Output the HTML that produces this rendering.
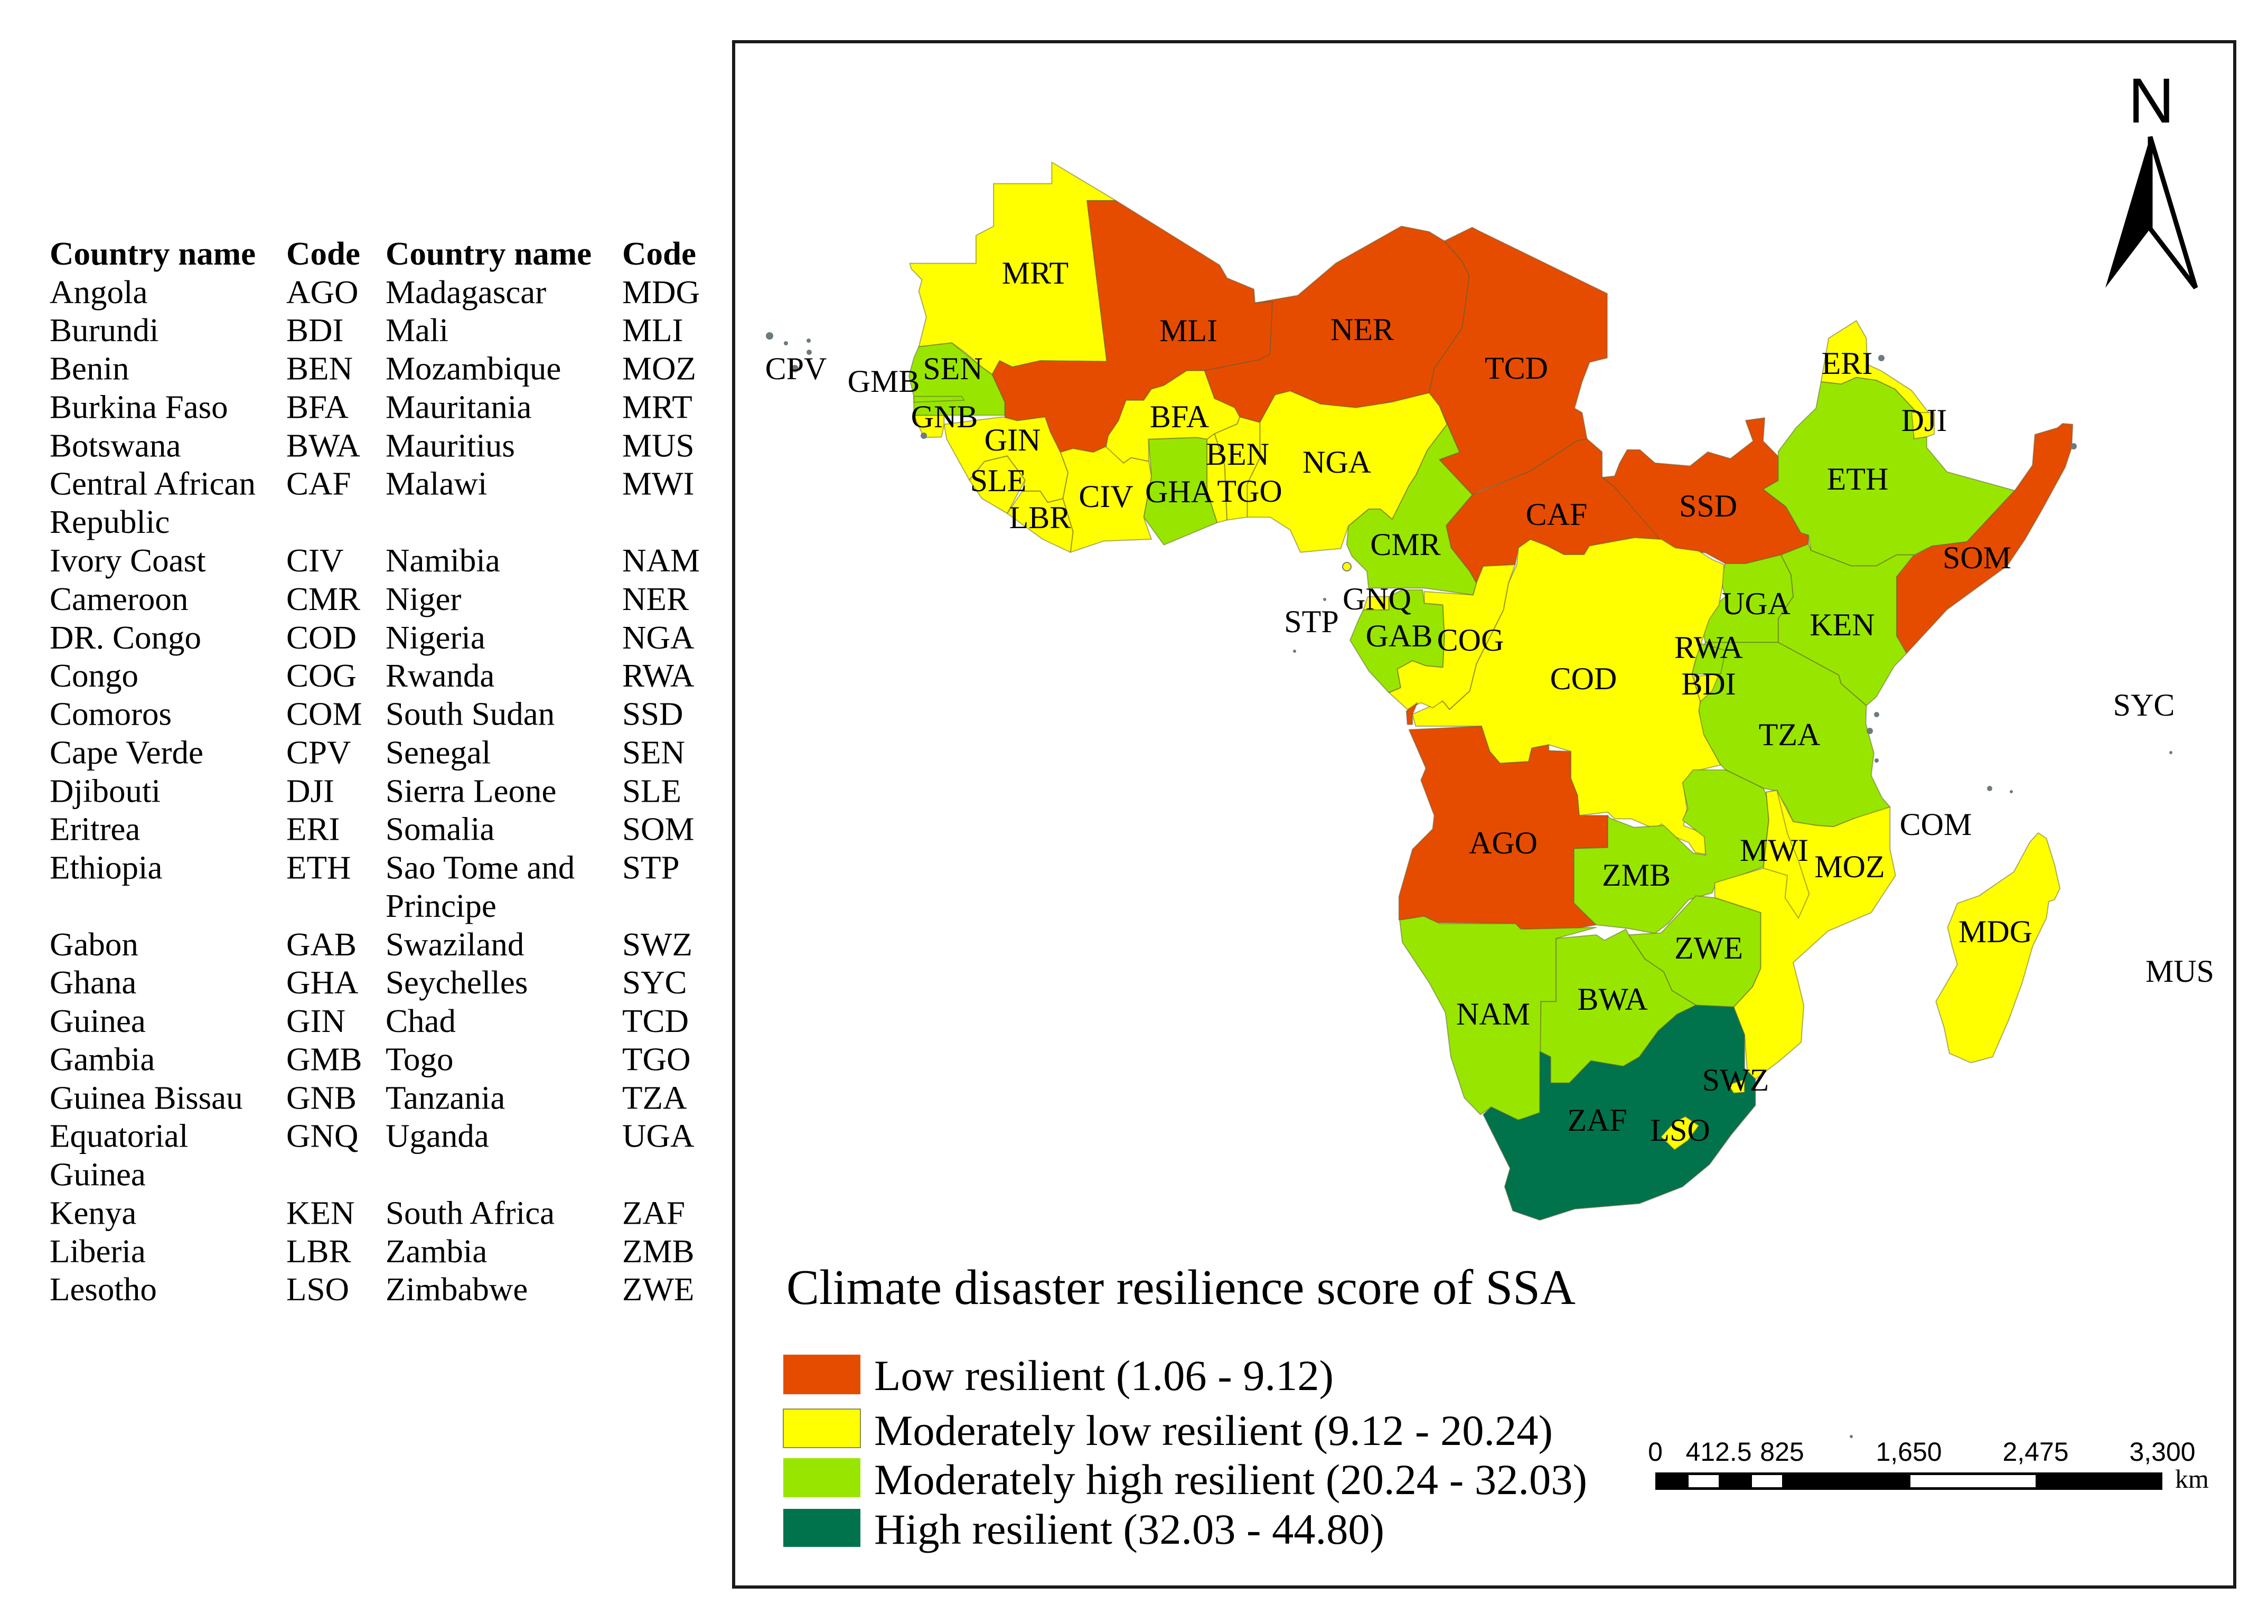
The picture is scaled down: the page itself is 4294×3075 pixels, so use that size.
<!DOCTYPE html>
<html lang="en">
<head>
<meta charset="utf-8">
<title>Climate disaster resilience score of SSA</title>
<style>
html,body{margin:0;padding:0;background:#fff}
svg{display:block}
text{font-family:"Liberation Serif",serif;fill:#000}
.t{font-size:63px}
.h{font-size:63px;font-weight:bold}
.c{font-size:60px;text-anchor:middle}
.country{stroke:#5c5c34;stroke-opacity:.5;stroke-width:2;vector-effect:non-scaling-stroke;stroke-linejoin:round}
.isle{fill:#6d7a80}
</style>
</head>
<body>
<svg id="figure" xmlns="http://www.w3.org/2000/svg" width="4294" height="3075" viewBox="0 0 4294 3075">
<rect width="4294" height="3075" fill="#fff"/>

<g transform="matrix(1 0 0 .9985 0 .75)">
<g class="h">
<text x="94" y="501">Country name</text><text x="542" y="501">Code</text><text x="730" y="501">Country name</text><text x="1178" y="501">Code</text>
</g>
<g class="t">
<text x="94" y="574">Angola</text><text x="94" y="646">Burundi</text><text x="94" y="719">Benin</text><text x="94" y="792">Burkina Faso</text><text x="94" y="865">Botswana</text><text x="94" y="937">Central African</text><text x="94" y="1010">Republic</text><text x="94" y="1083">Ivory Coast</text><text x="94" y="1156">Cameroon</text><text x="94" y="1229">DR. Congo</text><text x="94" y="1301">Congo</text><text x="94" y="1374">Comoros</text><text x="94" y="1447">Cape Verde</text><text x="94" y="1520">Djibouti</text><text x="94" y="1592">Eritrea</text><text x="94" y="1665">Ethiopia</text><text x="94" y="1811">Gabon</text><text x="94" y="1883">Ghana</text><text x="94" y="1956">Guinea</text><text x="94" y="2029">Gambia</text><text x="94" y="2102">Guinea Bissau</text><text x="94" y="2174">Equatorial</text><text x="94" y="2247">Guinea</text><text x="94" y="2320">Kenya</text><text x="94" y="2393">Liberia</text><text x="94" y="2465">Lesotho</text>
</g>
<g class="t">
<text x="542" y="574">AGO</text><text x="542" y="646">BDI</text><text x="542" y="719">BEN</text><text x="542" y="792">BFA</text><text x="542" y="865">BWA</text><text x="542" y="937">CAF</text><text x="542" y="1083">CIV</text><text x="542" y="1156">CMR</text><text x="542" y="1229">COD</text><text x="542" y="1301">COG</text><text x="542" y="1374">COM</text><text x="542" y="1447">CPV</text><text x="542" y="1520">DJI</text><text x="542" y="1592">ERI</text><text x="542" y="1665">ETH</text><text x="542" y="1811">GAB</text><text x="542" y="1883">GHA</text><text x="542" y="1956">GIN</text><text x="542" y="2029">GMB</text><text x="542" y="2102">GNB</text><text x="542" y="2174">GNQ</text><text x="542" y="2320">KEN</text><text x="542" y="2393">LBR</text><text x="542" y="2465">LSO</text>
</g>
<g class="t">
<text x="730" y="574">Madagascar</text><text x="730" y="646">Mali</text><text x="730" y="719">Mozambique</text><text x="730" y="792">Mauritania</text><text x="730" y="865">Mauritius</text><text x="730" y="937">Malawi</text><text x="730" y="1083">Namibia</text><text x="730" y="1156">Niger</text><text x="730" y="1229">Nigeria</text><text x="730" y="1301">Rwanda</text><text x="730" y="1374">South Sudan</text><text x="730" y="1447">Senegal</text><text x="730" y="1520">Sierra Leone</text><text x="730" y="1592">Somalia</text><text x="730" y="1665">Sao Tome and</text><text x="730" y="1738">Principe</text><text x="730" y="1811">Swaziland</text><text x="730" y="1883">Seychelles</text><text x="730" y="1956">Chad</text><text x="730" y="2029">Togo</text><text x="730" y="2102">Tanzania</text><text x="730" y="2174">Uganda</text><text x="730" y="2320">South Africa</text><text x="730" y="2393">Zambia</text><text x="730" y="2465">Zimbabwe</text>
</g>
<g class="t">
<text x="1178" y="574">MDG</text><text x="1178" y="646">MLI</text><text x="1178" y="719">MOZ</text><text x="1178" y="792">MRT</text><text x="1178" y="865">MUS</text><text x="1178" y="937">MWI</text><text x="1178" y="1083">NAM</text><text x="1178" y="1156">NER</text><text x="1178" y="1229">NGA</text><text x="1178" y="1301">RWA</text><text x="1178" y="1374">SSD</text><text x="1178" y="1447">SEN</text><text x="1178" y="1520">SLE</text><text x="1178" y="1592">SOM</text><text x="1178" y="1665">STP</text><text x="1178" y="1811">SWZ</text><text x="1178" y="1883">SYC</text><text x="1178" y="1956">TCD</text><text x="1178" y="2029">TGO</text><text x="1178" y="2102">TZA</text><text x="1178" y="2174">UGA</text><text x="1178" y="2320">ZAF</text><text x="1178" y="2393">ZMB</text><text x="1178" y="2465">ZWE</text>
</g>
</g>

<rect x="1389" y="79" width="2842" height="2926" fill="none" stroke="#1a1a1a" stroke-width="6"/>

<g transform="scale(2.749)">
<polygon class="country" id="MRT" points="626.6,181.4 672.2,181.4 672.2,162.2 684.3,155.8 684.3,126.5 724.4,126.5 724.4,111.7 768.6,138.2 748.7,138.2 762.3,249 716.4,248.5 697.2,252.8 688.5,248.5 683.3,258 676.3,253 665,243 655.5,236.2 632.8,238.8 638,218.4 632.8,200.5 635,192.8 627.6,185.2"/>
<polygon class="country" id="MLI" points="748.7,138.2 768.6,138.2 840,182.6 845.1,191.5 863.6,199.2 864.3,208.6 876.4,207.6 874.7,243.8 867.7,247.7 829.5,255.3 817.3,255.3 801.6,265.5 793,268 787.7,275.7 775.5,275.7 770.3,289.8 763.3,300 761.6,307.6 752.9,311.5 739,308.9 730.3,311.5 723.3,297.4 719.8,287.2 700.7,289.8 692,287.2 692,277 683.3,258 688.5,248.5 697.2,252.8 716.4,248.5 762.3,249"/>
<polygon class="country" id="NER" points="864.3,208.6 893.8,203.5 920,181.3 965.2,155.8 984.3,159.6 994.8,166 1007,180 1012,190 1007,226 987.8,254 984.3,270.6 958.2,277 933.9,280.8 909.5,278.3 888.6,269.3 878.2,271.9 867.7,291 853.8,287.2 850.3,280.8 836.4,274.5 829.5,255.3 867.7,247.7 874.7,243.8 876.4,207.6"/>
<polygon class="country" id="TCD" points="994.8,166 1013.9,156.6 1018.5,159 1106.9,202.2 1106.9,246.5 1094.8,249.5 1089.6,263 1084.4,281.2 1089.6,284.2 1093,302.3 1086,303.8 1053,325 1018.5,338.5 1014,340.8 991.3,316.6 1005.2,311.5 991.3,279.6 984.3,270.6 987.8,254 1007,226 1012,190 1007,180"/>
<polygon class="country" id="CAF" points="1014,340.8 1053,325 1086,303.8 1093,302.3 1103.4,311.3 1103.4,328.8 1112,335.5 1144.4,371.5 1125.9,370.3 1094.6,376 1091,382 1077.2,382 1065.6,376 1054,371.5 1045.8,377.3 1043.5,388.9 1021.5,390 1016.8,401.6 1012.2,393.5 999.4,377.3 996,362"/>
<polygon class="country" id="SSD" points="1103.4,328.8 1112,327.9 1115.5,318.9 1120.7,309.8 1129.4,309.8 1139.8,318.9 1164,321 1176.2,311.3 1191.8,315.9 1207.4,303.8 1202.2,289.6 1215.4,287.8 1214.3,303.8 1224.7,314.4 1224.7,331 1214.3,337 1230,349 1240.3,367 1245.5,368.6 1245.5,374.7 1226.5,382.2 1202.2,388.2 1188.3,388.2 1174.5,380.7 1157.1,379.2 1143.3,371.7 1112,335.5"/>
<polygon class="country" id="ERI" points="1254.2,263 1259.4,233 1278.5,220.9 1285.4,233 1286,251 1295.8,255.5 1316.6,269 1330.4,287 1320,284 1305,268 1292.3,262 1278.5,260 1268,264.6"/>
<polygon class="country" id="ETH" points="1254.2,263 1268,264.6 1278.5,260 1292.3,262 1305,268 1320,284 1318,302 1327,301 1327,308.3 1340.9,325 1387.6,337.9 1354.7,373.2 1330.5,376.2 1318.3,382.2 1306.2,382.2 1292.3,389.8 1275,389.8 1247.3,379.2 1245.5,368.6 1240.3,367 1230,349 1214.3,337 1224.7,331 1224.7,311 1236.9,294.7 1250.7,281.2"/>
<polygon class="country" id="DJI" points="1316.6,284 1332.2,284.2 1332.2,299 1327,300.8 1318.3,302.3"/>
<polygon class="country" id="SOM" points="1401.5,299.3 1417,294.7 1420.6,291.7 1427.5,292.3 1426.8,308.3 1422.3,321.9 1406.7,350.5 1394.6,371.6 1382.4,389.7 1361.6,404.8 1340.9,419.9 1313.1,450 1306.2,438 1306.2,397.3 1316.6,383.7 1330.5,376.2 1354.7,373.2 1387.6,337.9 1399.8,320.4"/>
<polygon class="country" id="KEN" points="1226.5,382.2 1245.5,374.7 1247.3,379.2 1275,389.8 1292.3,389.8 1306.2,382.2 1318.3,382.2 1306.2,397.3 1306.2,438 1313.1,450 1304.5,459 1292.3,480 1285.4,486 1268,471 1266.3,465 1224.7,442.5 1224.7,426 1235,410.9 1233.4,395.8"/>
<polygon class="country" id="UGA" points="1188.3,388.2 1202.2,388.2 1226.5,382.2 1233.4,395.8 1235,410.9 1224.7,426 1224.7,442.5 1174.5,442.5 1172.8,435 1178,420 1188.3,410.9 1184.9,398.8"/>
<polygon class="country" id="TZA" points="1174.5,442.5 1224.7,442.5 1266.3,465 1268,471 1285.4,486 1285,498.4 1290.6,518.8 1288.7,534.1 1296.2,549.5 1301.7,555.8 1286.9,562.2 1277.6,563.5 1262.8,569.4 1251.6,568.6 1235,566 1230,555 1222,544.4 1214.5,543 1188.5,530.3 1184.8,526.5 1171.8,503.5 1170,488.2 1172,480 1179,470 1170,455"/>
<polygon class="country" id="RWA" points="1172,443.4 1188.5,448 1185,464.3 1165.3,464.3 1168.8,450.4"/>
<polygon class="country" id="BDI" points="1166.5,466 1184,464.3 1179.2,475.9 1171,483.3 1168.8,475.9"/>
<polygon class="country" id="COD" points="1044.7,388.9 1045.8,377.3 1054,371.5 1065.6,376 1077.2,382 1091,382 1094.6,376 1125.9,370.3 1144.4,371.5 1153.7,377.3 1170,379.6 1179.2,385.4 1187.4,388.9 1186.2,404 1183.9,416.7 1177,427 1172.3,441 1167.6,455 1165.3,464.3 1171,483.3 1170,489.8 1173.4,506 1185,526.9 1165.3,531.6 1159.5,540.8 1161.8,557 1159.5,568.7 1174.6,574.5 1174.6,588.4 1167.6,587.2 1163,580.3 1151.4,575.6 1144.4,567.5 1139.8,571 1123.6,564 1112,564 1107.3,559.4 1087.6,561.7 1086.4,547.8 1081.8,536.2 1081.8,517.6 1066.7,513 1055,515.3 1052.8,524.6 1033,525.8 1026,517.6 1020.3,500.2 975,500.2 972.8,492 993.6,482.8 998.3,488.6 1012.2,475.9 1016.8,457.3 1035.4,420.2 1038.9,401.6"/>
<polygon class="country" id="COG" points="1016.8,401.6 1021.5,390 1043.5,388.9 1038.9,401.6 1035.4,420.2 1016.8,457.3 1012.2,475.9 998.3,488.6 993.6,482.8 986.7,487.5 978.6,484 969.3,488.6 956.5,477 964.6,473.6 962.3,460.8 972.8,455 982,458.5 993.6,459.6 994.8,438.8 993.6,416.7 980.9,415.6 980.9,407.4 1014.5,409.8"/>
<polygon class="country" id="GAB" points="979.7,406.3 980.9,415.6 993.6,416.7 994.8,438.8 993.6,459.6 982,458.5 972.8,455 962.3,460.8 964.6,473.6 956.5,477 942.6,462 929.8,441 935.6,427 939,420 956.5,420 956.5,410.9 965.8,406.3"/>
<polygon class="country" id="GNQ" points="942,411 956.5,410.9 956.5,420 939,420"/>
<polygon class="country" id="CMR" points="991.3,279.6 1005.2,311.5 991.3,316.6 1014,340.8 996,362 999.4,377.3 1012.2,393.5 1016.8,401.6 1014.5,409.8 980.9,405 942.6,405 941.4,393.5 931,383 927.5,375 928.7,362.2 942.6,350.6 950.7,350.6 958.8,357.6 970.4,334.4 975,327.4 983,310 996.5,292.3"/>
<polygon class="country" id="NGA" points="867.7,291 878.2,271.9 888.6,269.3 909.5,278.3 933.9,280.8 958.2,277 984.3,270.6 991.3,279.6 996.5,292.3 983,310 975,327.4 970.4,334.4 958.8,357.6 950.7,350.6 942.6,350.6 928.7,362.2 923.4,377.8 895.6,380.4 888.6,365 874.7,356.2 859,356.2 859,333.2 867.7,315.3"/>
<polygon class="country" id="BEN" points="853.8,287.2 867.7,291 867.7,315.3 859,333.2 859,356.2 845,358.2 843.4,320.4 836.4,298.7 852,292"/>
<polygon class="country" id="TGO" points="831.2,302.5 836.4,298.7 843.4,320.4 845,358.2 838.2,360 831.2,338"/>
<polygon class="country" id="GHA" points="791,302.5 824.2,301.3 831.2,302.5 831.2,338 838.2,360 801.6,375.3 787.7,356.2 793,328"/>
<polygon class="country" id="BFA" points="817.3,255.3 829.5,255.3 836.4,274.5 850.3,280.8 853.8,287.2 852,292 836.4,298.7 831.2,302.5 824.2,301.3 791,302.5 791.2,317.8 779,315.3 773.8,319 761.6,308.9 763.3,300 770.3,289.8 775.5,275.7 787.7,275.7 793,268 801.6,265.5"/>
<polygon class="country" id="CIV" points="730.3,311.5 739,308.9 752.9,311.5 761.6,307.6 773.8,319 779,315.3 791.2,317.8 793,328 787.7,356.2 793,371.4 760,372.7 737.2,380.4 739,366.3 732,343.4 735.5,325.5"/>
<polygon class="country" id="LBR" points="737.2,380.4 718.1,371.4 693.7,353.6 704.2,338.2 716.4,338.2 721.6,346 732,343.4 739,366.3"/>
<polygon class="country" id="SLE" points="678,317.8 693.7,314 706,330.6 693.7,353.6 676.3,343.4 667.6,330.6"/>
<polygon class="country" id="GIN" points="650.2,292.3 690.3,287.2 700.7,289.8 719.8,287.2 723.3,297.4 730.3,311.5 735.5,325.5 732,343.4 721.6,346 716.4,338.2 704.2,338.2 706,330.6 693.7,314 678,317.8 667.6,330.6 652,302.5"/>
<polygon class="country" id="GNB" points="629.4,286 650.2,286 650.2,292.3 648.5,301 636.3,301.3"/>
<polygon class="country" id="SEN" points="632.8,238.8 655.5,236.2 676.3,253 683.3,258 692,277 692,286 650.2,286 629.4,286 629.4,273 626,259 629.4,246.5"/>
<polygon class="country" id="GMB" points="629.4,273 662.4,273 664,275.7 629.4,277"/>
<polygon class="country" id="AGO" points="970.4,502.6 1020.3,500.2 1026,517.6 1033,525.8 1052.8,524.6 1055,515.3 1066.7,513 1066.7,517 1081.8,517.6 1081.8,536.2 1086.4,547.8 1087.6,561.7 1107.3,561.7 1107.3,583.8 1084,584.5 1084,622 1099.2,637 1072.5,641.8 1045.8,639.4 1040,636 989,635.5 982,631.3 963.5,633.6 963.5,617.4 972.8,585 986.7,571 987.8,561.7 978.6,537.4 982,529.2"/>
<polygon class="country" id="CAB" points="968.6,489.8 976.2,484 972.8,492 972.8,499 969.3,499"/>
<polygon class="country" id="ZMB" points="1107.3,561.7 1107.3,583.8 1084,584.5 1084,622 1099.2,637 1121,639.4 1139.8,642.9 1149,636 1163,619.7 1179.2,615 1181.5,609.3 1214.5,597 1218.2,564.8 1220,557 1214.5,543 1188.5,530.3 1166.2,530.3 1158.8,539.2 1162.5,557 1158.8,564.8 1173.7,576.3 1174.8,589 1166.2,587.7 1145.8,568.6 1125.4,569.9 1108.7,563.5"/>
<polygon class="country" id="MOZ" points="1216.4,545.6 1223.8,544.4 1235,566 1251.6,568.6 1262.8,569.4 1277.6,563.5 1301.7,555.8 1301.7,585.2 1305.5,603 1288.7,628.6 1259,641.3 1235,663 1238.6,677 1242.3,692.4 1240.5,717.9 1225.6,730.7 1209,743.4 1203.4,738.3 1201.5,712.8 1194,693.6 1207,679.6 1212.6,666.9 1212.6,628.6 1181,618.4 1181,608 1214.5,598 1218.2,564.8"/>
<polygon class="country" id="MWI" points="1216.4,545.6 1223.8,544.4 1231,574 1238.6,592.8 1246,615.8 1238.6,632.4 1229.4,618.4 1231,603 1214.5,598 1218.2,564.8"/>
<polygon class="country" id="ZWE" points="1168,617 1181,618.4 1212.6,628.6 1212.6,666.9 1207,679.6 1194,693.6 1168,692.4 1151.4,682.2 1145.8,669.4 1132.8,660.5 1121.7,643.9 1144,642.6"/>
<polygon class="country" id="BWA" points="1071.6,646.4 1099.4,643.9 1105,647.7 1119.8,640 1121.7,643.9 1132.8,660.5 1145.8,669.4 1151.4,682.2 1168,692.4 1155,698.7 1142,710.2 1129,728.1 1118,734.5 1095.7,730.7 1080.9,746 1067.9,746 1067.9,728 1060.5,724.3 1061.2,689.8 1071.6,689.8"/>
<polygon class="country" id="NAM" points="964,633.7 980.6,631.1 991.8,636.2 1043.8,636.2 1047.5,640 1099.4,638.8 1071.6,646.4 1071.6,689.8 1061.2,689.8 1060.5,766.4 1051.2,770.2 1045.6,771.5 1027,762.5 1019.6,767.7 1008.5,756.2 999.2,728 995.5,697.5 984.4,677 965.8,649"/>
<polygon class="country" id="ZAF" points="1060.5,724.3 1067.9,728 1067.9,746 1080.9,746 1095.7,730.7 1118,734.5 1129,728.1 1142,710.2 1155,698.7 1168,692.4 1194,693.6 1201.5,712.8 1201.5,735.8 1209,743.4 1209,761.3 1192.2,781.7 1177.4,802 1158.8,817.4 1129,829 1084.6,832.7 1060.5,840.4 1041.9,834 1036.3,817.4 1040,804.7 1021.5,767.7 1027,762.5 1045.6,771.5 1060.5,766.4"/>
<polygon class="country" id="LSO" points="1160.7,769 1170,775.3 1162.5,785.5 1153.3,792 1144,783 1153.3,772.8"/>
<polygon class="country" id="SWZ" points="1190.4,747.2 1201.5,743.4 1201.5,752.3 1194,752.9"/>
<polygon class="country" id="MDG" points="1403.8,573.7 1409.4,577.5 1415,595.4 1418.7,612 1415,619.6 1411,621 1409.4,632.4 1400,651.5 1392.7,677 1383.4,702.6 1372.3,728 1357.4,732 1342.6,725.5 1338.9,707.7 1333.3,689.8 1348.1,664.3 1344.4,651.5 1341.4,638.8 1348.1,622.2 1363,617 1387,600.5 1398,580"/>
</g>

<g>
<circle class="isle" cx="1457" cy="636" r="7"/><circle class="isle" cx="1488" cy="650" r="4"/><circle class="isle" cx="1531" cy="645" r="4"/><circle class="isle" cx="1532" cy="667" r="5"/><circle class="isle" cx="1505" cy="698" r="7"/>
<circle class="isle" cx="3767" cy="1493" r="5"/><circle class="isle" cx="3808" cy="1499" r="3"/><circle class="isle" cx="2508" cy="1135" r="3"/><circle class="isle" cx="2451" cy="1233" r="3"/>
<circle class="isle" cx="3553" cy="1353" r="5"/><circle class="isle" cx="3540" cy="1384" r="6"/><circle class="isle" cx="3553" cy="1440" r="4"/><circle class="isle" cx="4110" cy="1425" r="3"/><circle class="isle" cx="3505" cy="2720" r="3"/>
<circle cx="2550" cy="1073" r="8" fill="#ffff00" stroke="#777" stroke-width="2"/>
<circle class="isle" cx="1749" cy="825" r="6"/><circle class="isle" cx="3562" cy="678" r="6"/><circle class="isle" cx="3926" cy="845" r="6"/>
</g>

<g class="c">
<text x="1960" y="537">MRT</text><text x="2250" y="646">MLI</text><text x="2579" y="644">NER</text><text x="1507" y="718">CPV</text><text x="1673" y="742">GMB</text><text x="1804" y="718">SEN</text><text x="1788" y="809">GNB</text><text x="1917" y="853">GIN</text><text x="2233" y="809">BFA</text><text x="2343" y="880">BEN</text><text x="2531" y="895">NGA</text><text x="1890" y="930">SLE</text><text x="2233" y="951">GHA</text><text x="2366" y="950">TGO</text><text x="2094" y="960">CIV</text><text x="1969" y="1000">LBR</text><text x="2661" y="1051">CMR</text>
<text x="2607" y="1154">GNQ</text><text x="2483" y="1197">STP</text><text x="2649" y="1224">GAB</text><text x="2784" y="1232">COG</text><text x="2998" y="1305">COD</text><text x="3235" y="1246">RWA</text><text x="3235" y="1315">BDI</text><text x="3325" y="1163">UGA</text><text x="2947" y="994">CAF</text><text x="3234" y="978">SSD</text><text x="2846" y="1616">AGO</text><text x="3098" y="1677">ZMB</text><text x="3235" y="1815">ZWE</text>
<text x="2871" y="717">TCD</text><text x="3497" y="708">ERI</text><text x="3643" y="816">DJI</text><text x="3517" y="927">ETH</text><text x="3743" y="1076">SOM</text><text x="3488" y="1203">KEN</text><text x="4059" y="1355">SYC</text>
<text x="3388" y="1411">TZA</text><text x="3665" y="1581">COM</text><text x="3359" y="1630">MWI</text><text x="3502" y="1661">MOZ</text><text x="3778" y="1784">MDG</text><text x="3053" y="1912">BWA</text><text x="2827" y="1940">NAM</text><text x="3286" y="2065">SWZ</text><text x="3024" y="2141">ZAF</text><text x="3181" y="2160">LSO</text><text x="4127" y="1859">MUS</text>
</g>

<g>
<text x="4073" y="232" text-anchor="middle" style="font-family:'Liberation Sans',sans-serif;font-size:121px">N</text>
<polygon points="4071,259 4157,545 4071,433" fill="#fff" stroke="#000" stroke-width="9" stroke-linejoin="miter"/>
<polygon points="4071,259 3986,545 4071,433" fill="#000"/>
</g>

<text x="1489" y="2469" font-size="94" textLength="1494" lengthAdjust="spacingAndGlyphs">Climate disaster resilience score of SSA</text>
<g>
<rect id="swatch0" x="1483" y="2565" width="146" height="75"/>
<rect id="swatch1" x="1483" y="2668" width="146" height="73" stroke="#8a8a50" stroke-width="2"/>
<rect id="swatch2" x="1483" y="2761" width="146" height="74"/>
<rect id="swatch3" x="1483" y="2857" width="146" height="72"/>
<text x="1655" y="2632" font-size="82" textLength="870" lengthAdjust="spacingAndGlyphs">Low resilient (1.06 - 9.12)</text>
<text x="1655" y="2736" font-size="82" textLength="1285" lengthAdjust="spacingAndGlyphs">Moderately low resilient (9.12 - 20.24)</text>
<text x="1655" y="2829" font-size="82" textLength="1350" lengthAdjust="spacingAndGlyphs">Moderately high resilient (20.24 - 32.03)</text>
<text x="1655" y="2923" font-size="82" textLength="966" lengthAdjust="spacingAndGlyphs">High resilient (32.03 - 44.80)</text>
</g>

<g id="scale-bar"></g>
<text x="4118" y="2817" font-size="50">km</text>
</svg>

<script>
// Legend classes (0 low, 1 moderately low, 2 moderately high, 3 high)
var classColors = ['#E64C00', '#FFFF00', '#98E600', '#00734C'];
var lowCodes = ['AGO', 'CAB', 'CAF', 'MLI', 'NER', 'SOM', 'SSD', 'TCD'];
var modLowCodes = ['BDI', 'BEN', 'BFA', 'CIV', 'COD', 'COG', 'DJI', 'ERI', 'GIN', 'GNB', 'GNQ', 'LBR', 'LSO', 'MDG', 'MOZ', 'MRT', 'MWI', 'NGA', 'SLE', 'SWZ', 'TGO'];
var modHighCodes = ['BWA', 'CMR', 'ETH', 'GAB', 'GHA', 'GMB', 'KEN', 'NAM', 'RWA', 'SEN', 'TZA', 'UGA', 'ZMB', 'ZWE'];
var highCodes = ['ZAF'];
// Scale bar, km
var scaleTicks = [0, 412.5, 825, 1650, 2475, 3300];
var scaleTickLabels = ['0', '412.5', '825', '1,650', '2,475', '3,300'];
var scaleDivisions = [0, 206.25, 412.5, 618.75, 825, 1650, 2475, 3300];

function paint(codes, cls) {
  codes.forEach(function (code) {
    var el = document.getElementById(code);
    if (el) el.setAttribute('fill', classColors[cls]);
  });
  document.getElementById('swatch' + cls).setAttribute('fill', classColors[cls]);
}
paint(lowCodes, 0);
paint(modLowCodes, 1);
paint(modHighCodes, 2);
paint(highCodes, 3);

var NS = 'http://www.w3.org/2000/svg';
var bar = document.getElementById('scale-bar');
function scaleX(km) {
  return 3134 + km * (960 / 3300);
}
var barBg = document.createElementNS(NS, 'rect');


barBg.setAttribute('x', scaleX(scaleDivisions[0]));
barBg.setAttribute('y', 2788);
barBg.setAttribute('width', scaleX(scaleDivisions[scaleDivisions.length - 1]) - scaleX(scaleDivisions[0]));
barBg.setAttribute('height', 33);
barBg.setAttribute('fill', '#000');
bar.appendChild(barBg);
for (var i = 1; i < scaleDivisions.length - 1; i += 2) {
  var cell = document.createElementNS(NS, 'rect');
  
  
  cell.setAttribute('x', scaleX(scaleDivisions[i]) + 3);
  cell.setAttribute('y', 2793);
  cell.setAttribute('width', scaleX(scaleDivisions[i + 1]) - scaleX(scaleDivisions[i]) - 3);
  cell.setAttribute('height', 23);
  cell.setAttribute('fill', '#fff');
  bar.appendChild(cell);
}
scaleTicks.forEach(function (km, idx) {
  var label = document.createElementNS(NS, 'text');
  
  
  label.setAttribute('x', scaleX(km));
  label.setAttribute('y', 2766);
  label.setAttribute('text-anchor', 'middle');
  label.setAttribute('font-size', '50');
  label.style.fontFamily = '"Liberation Sans", sans-serif';
  label.textContent = scaleTickLabels[idx];
  bar.appendChild(label);
});
</script>
</body>
</html>
